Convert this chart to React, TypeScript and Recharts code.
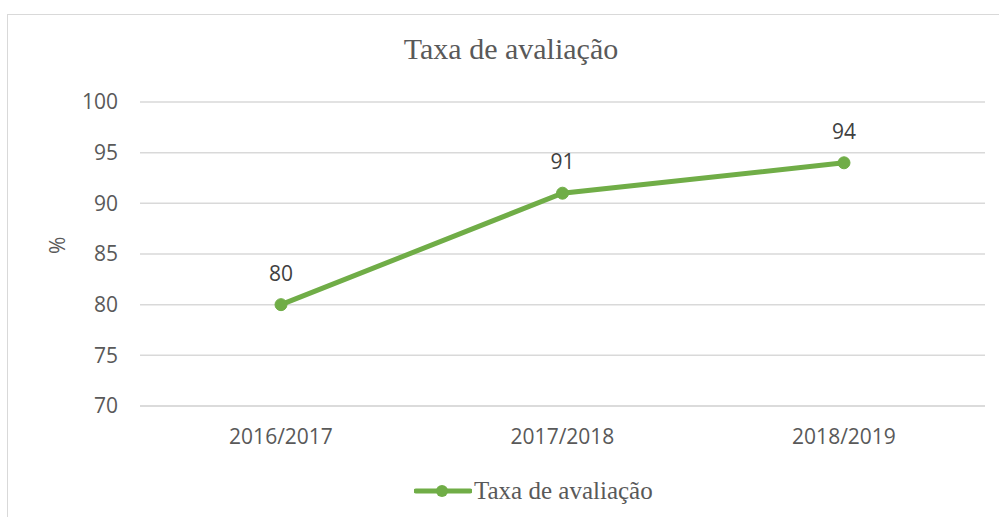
import React from "react";
import { LineChart, Line, CartesianGrid, XAxis, YAxis, LabelList } from "recharts";

const years = ["2016/2017", "2017/2018", "2018/2019"];
const taxa = [80, 91, 94];
const yTicks = [70, 75, 80, 85, 90, 95, 100];

const data = years.map((ano, i) => ({ ano, taxa: taxa[i] }));

const green = "#70AD47";
const sans = "'Open Sans', sans-serif";
const tickFont = { fontFamily: sans, fontSize: 21, fill: "#595959" };
const serif = "'Liberation Serif', 'DejaVu Serif', serif";

export default function App() {
    return (
        <div style={{ position: "absolute", left: 0, top: 0, width: 999, height: 517, background: "#fff", overflow: "hidden" }}>
            <div style={{ position: "absolute", left: 7, top: 14, width: 1020, height: 540, border: "1.5px solid #d9d9d9", boxSizing: "border-box" }} />
            <div style={{ position: "absolute", left: 0, top: 32, width: 1022, textAlign: "center", fontFamily: serif, fontSize: 30, color: "#595959" }}>
                Taxa de avaliação
            </div>
            <LineChart
                width={999}
                height={517}
                data={data}
                margin={{ top: 102, right: 14, left: 0, bottom: 81 }}
                style={{ position: "absolute", left: 0, top: 0 }}
            >
                <CartesianGrid vertical={false} stroke="#d9d9d9" strokeWidth={1.5} />
                <XAxis
                    dataKey="ano"
                    padding={{ left: 141, right: 141 }}
                    axisLine={{ stroke: "#d9d9d9", strokeWidth: 1.5 }}
                    tickLine={false}
                    tickMargin={17}
                    tick={tickFont}
                />
                <YAxis
                    width={140}
                    domain={[70, 100]}
                    ticks={yTicks}
                    axisLine={false}
                    tickLine={false}
                    tickMargin={16}
                    tick={tickFont}
                    label={{
                        value: "%",
                        angle: -90,
                        position: "insideLeft",
                        offset: 58,
                        style: { fontFamily: sans, fontSize: 21, fill: "#595959" },
                    }}
                />
                <Line
                    dataKey="taxa"
                    stroke={green}
                    strokeWidth={5}
                    dot={{ r: 6, fill: green, stroke: green, strokeWidth: 1 }}
                    isAnimationActive={false}
                >
                    <LabelList
                        dataKey="taxa"
                        position="top"
                        offset={24}
                        style={{ fontFamily: sans, fontSize: 21, fill: "#404040" }}
                    />
                </Line>
            </LineChart>
            <div style={{ position: "absolute", left: 414, top: 477, display: "flex", alignItems: "center" }}>
                <svg width={58} height={20}>
                    <line x1={2} y1={10} x2={56} y2={10} stroke={green} strokeWidth={5} strokeLinecap="round" />
                    <circle cx={28} cy={10} r={6} fill={green} />
                </svg>
                <span style={{ marginLeft: 2, fontFamily: serif, fontSize: 25, color: "#595959" }}>Taxa de avaliação</span>
            </div>
        </div>
    );
}
